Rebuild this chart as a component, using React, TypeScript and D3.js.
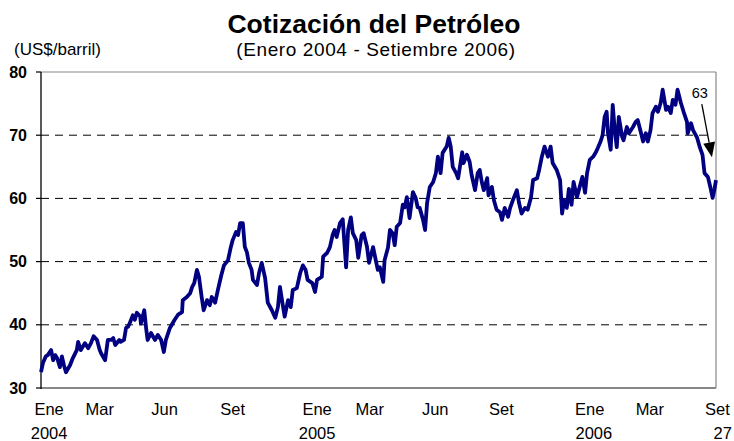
import * as d3 from 'd3';
import React from 'react';

// day offsets since 1 Jan 2004, and WTI price (US$/barril)
const days = [
    0, 3, 7, 10, 15, 18, 21, 24, 28, 31, 34, 37, 43, 47, 53, 55, 59, 65, 70, 74,
    78, 83, 87, 89, 95, 96, 99, 104, 107, 110, 116, 118, 123, 126, 129, 132, 136, 139, 142, 147,
    148, 153, 156, 158, 163, 169, 173, 178, 182, 185, 191, 198, 203, 209, 210, 216, 221, 224, 227, 231,
    234, 238, 241, 246, 250, 253, 258, 262, 267, 271, 277, 281, 284, 289, 292, 295, 299, 302, 305, 308,
    312, 314, 320, 323, 327, 332, 336, 342, 347, 351, 354, 357, 361, 366, 370, 373, 379, 384, 388, 392,
    395, 402, 406, 409, 416, 418, 424, 428, 432, 435, 438, 443, 447, 452, 455, 459, 462, 467, 470, 475,
    478, 483, 486, 492, 496, 499, 502, 507, 509, 514, 517, 521, 524, 527, 532, 536, 539, 542, 546, 551,
    555, 558, 561, 566, 569, 572, 576, 581, 585, 588, 592, 595, 601, 604, 607, 610, 615, 618, 624, 626,
    631, 635, 638, 643, 647, 650, 653, 656, 661, 663, 668, 671, 675, 680, 683, 687, 692, 695, 699, 705,
    708, 712, 717, 721, 726, 729, 735, 738, 742, 746, 751, 755, 758, 764, 769, 772, 775, 779, 782, 786,
    789, 794, 798, 802, 806, 809, 813, 818, 822, 825, 829, 832, 835, 838, 840, 844, 847, 850, 853, 856,
    861, 863, 868, 871, 877, 881, 884, 889, 892, 896, 899, 903, 906, 911, 914, 918, 921, 926, 929, 933,
    936, 940, 943, 948, 952, 957, 958, 963, 966, 972, 976, 980, 983, 988, 992, 995, 998, 1000
];
const prices = [
    32.5, 34, 35, 35.2, 36, 34.4, 35.2, 34.7, 33.3, 35, 33.6, 32.5, 33.6, 34.7, 36, 37.3, 36, 37.1, 36.3, 37.1,
    38.2, 37.6, 36, 35.5, 34.4, 35.2, 37.6, 37.6, 37.9, 36.8, 37.6, 37.3, 37.6, 39.5, 39.7, 40.4, 41.5, 40.8, 41.9, 41.3,
    40.2, 42.3, 39.2, 37.6, 38.7, 37.6, 38.4, 37.6, 35.7, 37.6, 39.5, 40.8, 41.6, 42, 43.9, 44.4, 45, 46, 46.6, 48.7,
    47.6, 44.4, 42.3, 43.9, 43.1, 44.4, 43.5, 45.5, 47.8, 49.4, 50.2, 52.2, 53.4, 54.7, 54.2, 56.1, 56.1, 52.3, 51.5, 49.8,
    48.7, 47.1, 46.3, 48.2, 49.8, 47.4, 43.5, 42.3, 41.1, 42.8, 46, 43.9, 41.3, 43.9, 42.8, 45.5, 45.8, 48.2, 49.4, 48.7,
    47.1, 46.6, 45.2, 47.1, 47.6, 50.8, 51.4, 52.3, 54.2, 55, 53.9, 56.1, 56.7, 49.1, 55, 57, 54.5, 53.4, 50.6, 54.2,
    54.5, 52.3, 49.8, 52.3, 50.2, 48.7, 49.1, 46.8, 50.2, 52.2, 55, 54.5, 52.6, 55.5, 56.1, 59, 58.6, 60.2, 56.9, 61,
    60.1, 58.6, 58.5, 56.6, 55, 59.3, 61.8, 62.6, 64, 66.6, 64, 67.2, 68.2, 69.6, 68.2, 65, 64, 63.2, 67.3, 65.6,
    66.9, 65.8, 63.7, 61.3, 64, 64.5, 62.6, 61.3, 63.2, 60.5, 61.8, 59.7, 58.2, 57.8, 56.6, 58.5, 57.1, 58.5, 59.7, 61.3,
    59.4, 57.6, 58.5, 58.2, 60.2, 62.9, 63.2, 64.5, 66.6, 68.2, 66.6, 68.2, 65.6, 64.5, 62.9, 57.6, 59.7, 58.5, 61.5, 59,
    62.6, 60.2, 61.8, 63.4, 60.9, 64, 66.1, 66.6, 67.3, 68, 69, 70, 72.9, 73.7, 70.3, 67.7, 74.8, 70.8, 68.1, 72.9,
    69.7, 69.2, 71.3, 70.3, 71.3, 72.1, 72.4, 70.3, 69, 70.3, 69, 70.8, 73.5, 74.5, 73.7, 75.1, 77.2, 74, 74.5, 73.5,
    75.6, 74.8, 77.2, 75.1, 73.7, 72.1, 70.3, 71.9, 70.8, 69.6, 68.1, 66.9, 64, 63.4, 61.6, 60.1, 61.6, 62.9
];

const yTicks = [30, 40, 50, 60, 70, 80];
const gridValues = [40, 50, 60, 70];
const monthLabels = ['Ene', 'Mar', 'Jun', 'Set', 'Ene', 'Mar', 'Jun', 'Set', 'Ene', 'Mar', 'Set'];
const monthLabelDays = [12, 87, 183, 284, 409, 487, 584, 682, 813, 902, 1002];
const yearLabels = ['2004', '2005', '2006', '27'];
const yearLabelDays = [12, 409, 819, 1010];

const startDate = new Date(2004, 0, 1);
const endDate = new Date(2006, 8, 27);
const toDate = (d: number) => d3.timeDay.offset(startDate, d);

// annotation: label and arrow toward the last quote
const noteLabel = '63';
const noteLabelAt = { day: 976, value: 75.9 };
const noteArrowFrom = { day: 979, value: 74.9 };
const noteArrowTo = { day: 994, value: 66.5 };

const W = 734;
const H = 441;
const FONT = '"Liberation Sans", Arial, sans-serif';

export default function App() {
    const x = d3.scaleTime().domain([startDate, endDate]).range([41, 716]);
    const y = d3.scaleLinear().domain([30, 80]).range([388, 72]);

    const series = days.map((d, i) => ({ date: toDate(d), value: prices[i] }));
    const line = d3.line<{ date: Date; value: number }>()
        .x(d => x(d.date))
        .y(d => y(d.value));

    const ax1 = x(toDate(noteArrowFrom.day));
    const ay1 = y(noteArrowFrom.value);
    const ax2 = x(toDate(noteArrowTo.day));
    const ay2 = y(noteArrowTo.value);
    const ang = Math.atan2(ay2 - ay1, ax2 - ax1);
    const headLen = 15;
    const headW = 6;
    const bx = ax2 - headLen * Math.cos(ang);
    const by = ay2 - headLen * Math.sin(ang);
    const head = [
        [ax2, ay2],
        [bx + headW * Math.sin(ang), by - headW * Math.cos(ang)],
        [bx - headW * Math.sin(ang), by + headW * Math.cos(ang)]
    ].map(p => p.join(',')).join(' ');

    return (
        <svg width={W} height={H} style={{ position: 'absolute', left: 0, top: 0, background: '#fff' }} fontFamily={FONT}>
            <text x={374} y={33} textAnchor="middle" fontSize={26.5} fontWeight="bold">Cotización del Petróleo</text>
            <text x={376} y={56} textAnchor="middle" fontSize={19} letterSpacing={0.6}>(Enero 2004 - Setiembre 2006)</text>
            <text x={14} y={55} fontSize={17}>(US$/barril)</text>

            {gridValues.map(v => (
                <line key={v} x1={41} x2={712} y1={y(v)} y2={y(v)} stroke="#000" strokeWidth={1} strokeDasharray="8,6" />
            ))}

            <line x1={41} x2={716} y1={y(80)} y2={y(80)} stroke="#888" strokeWidth={1.2} />
            <line x1={716} x2={716} y1={y(80)} y2={y(30)} stroke="#888" strokeWidth={1.2} />
            <line x1={41} x2={716} y1={y(30)} y2={y(30)} stroke="#888" strokeWidth={2.2} />
            <line x1={41} x2={41} y1={y(80)} y2={y(30) + 1} stroke="#000" strokeWidth={1.3} />

            {yTicks.map(v => (
                <g key={v}>
                    <line x1={36} x2={41} y1={y(v)} y2={y(v)} stroke="#000" strokeWidth={1.2} />
                    <text x={27} y={y(v) + 5.5} textAnchor="end" fontSize={16} fontWeight="bold">{v}</text>
                </g>
            ))}

            <path d={line(series) || ''} fill="none" stroke="#000080" strokeWidth={3.8} strokeLinejoin="round" />

            {monthLabels.map((m, i) => (
                <text key={i} x={x(toDate(monthLabelDays[i]))} y={415} textAnchor="middle" fontSize={16.5}>{m}</text>
            ))}
            {yearLabels.map((t, i) => (
                <text key={i} x={x(toDate(yearLabelDays[i]))} y={439} textAnchor="middle" fontSize={16.5}>{t}</text>
            ))}

            <text x={x(toDate(noteLabelAt.day))} y={y(noteLabelAt.value)} textAnchor="middle" fontSize={14.5}>{noteLabel}</text>
            <line x1={ax1} y1={ay1} x2={bx} y2={by} stroke="#000" strokeWidth={1.3} />
            <polygon points={head} fill="#000" />
        </svg>
    );
}
